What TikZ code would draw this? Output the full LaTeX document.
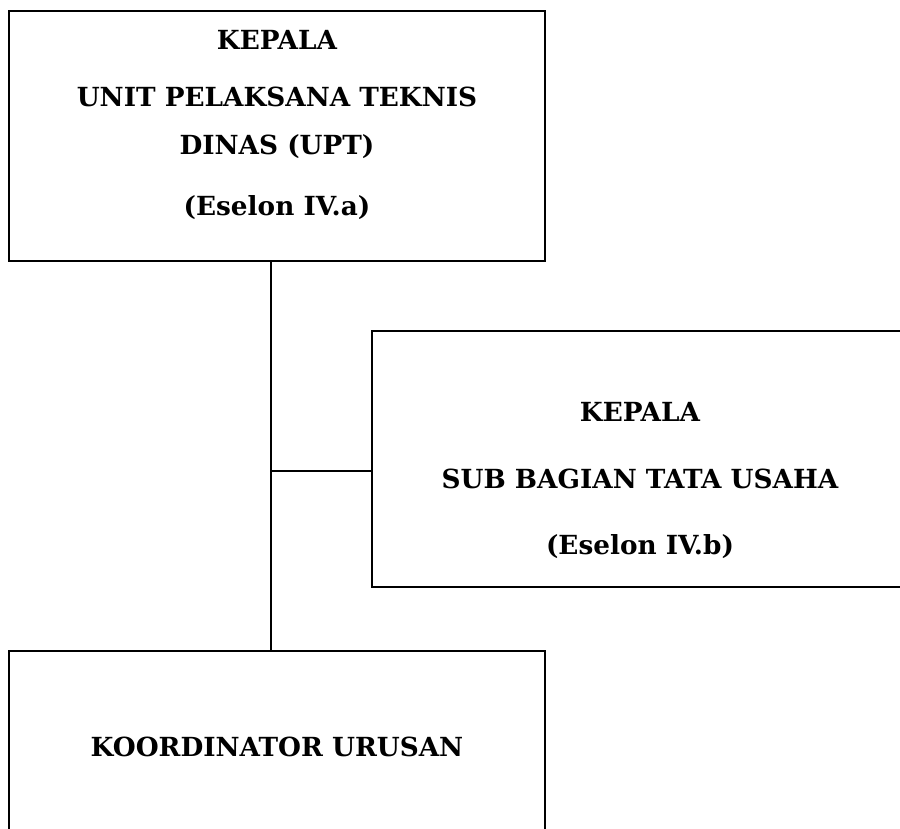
\documentclass[tikz,border=0pt]{standalone}
\usepackage{fontspec}
\setmainfont{DejaVu Serif}
\begin{document}
\begin{tikzpicture}[x=1pt,y=-1pt,
  box/.style={draw=black, line width=2pt, rectangle, inner sep=0pt},
  lbl/.style={anchor=base, inner sep=0pt, font=\fontsize{26.3}{30}\selectfont\bfseries},
  conn/.style={draw=black, line width=2pt}]
\path[use as bounding box] (0,0) rectangle (900,829);
\clip (0,0) rectangle (900,829);
% boxes
\node[box, minimum width=536.5pt, minimum height=249.2pt] (upt) at (276.75,136.1) {};
\node[box, minimum width=536pt, minimum height=256pt] (sub) at (640,458.7) {};
\node[box, minimum width=536.5pt, minimum height=190.3pt] (koord) at (276.75,745.85) {};
% labels
\node[lbl] (t1) at (277,50) {KEPALA};
\node[lbl] (t2) at (277,107) {UNIT PELAKSANA TEKNIS};
\node[lbl] (t3) at (277,155) {DINAS (UPT)};
\node[lbl] (t4) at (277,216) {(Eselon IV.a)};
\node[lbl] (s1) at (640,421.7) {KEPALA};
\node[lbl] (s2) at (640,488) {SUB BAGIAN TATA USAHA};
\node[lbl] (s3) at (640,554) {(Eselon IV.b)};
\node[lbl] (k1) at (277,756) {KOORDINATOR URUSAN};
% connectors
\coordinate (trunk) at (271,0);
\coordinate (branch) at (271,470.5);
\draw[conn] (upt.south -| trunk) -- (koord.north -| trunk);
\draw[conn] (branch) -- (branch -| sub.west);
\end{tikzpicture}
\end{document}
